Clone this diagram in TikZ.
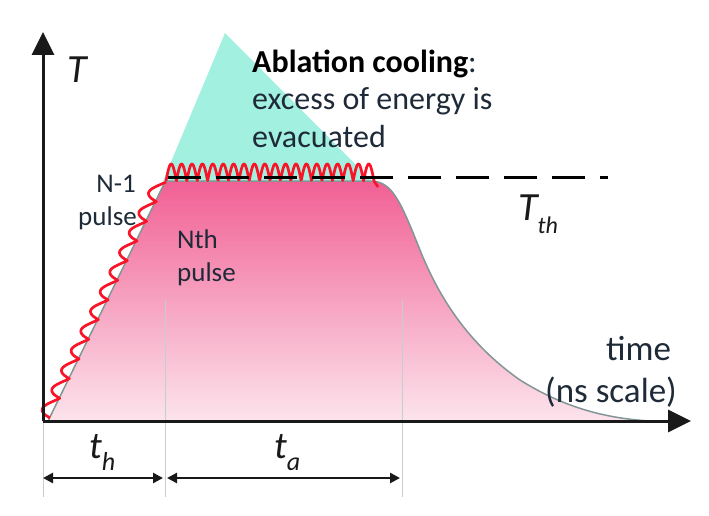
\documentclass[tikz,border=0pt]{standalone}
\usepackage{fontspec}
\setmainfont{Carlito}
\usetikzlibrary{arrows.meta}
\definecolor{tealfill}{RGB}{162,240,224}
\definecolor{pinktop}{RGB}{241,96,148}
\definecolor{pinkbot}{RGB}{252,228,236}
\definecolor{wavered}{RGB}{250,20,40}
\definecolor{outl}{RGB}{130,150,150}
\definecolor{txt}{RGB}{30,42,56}
\definecolor{axiscol}{RGB}{25,25,25}
\definecolor{guide}{RGB}{195,205,212}
\begin{document}
\begin{tikzpicture}[x=1pt,y=-1pt,
  axisline/.style={line width=3pt,draw=axiscol,-{Triangle[length=23pt,width=22pt]}},
  dimarrow/.style={line width=2.5pt,draw=axiscol,{Triangle[length=10pt,width=10pt]}-{Triangle[length=10pt,width=10pt]}},
  guideline/.style={draw=guide,line width=0.8pt},
  wave/.style={draw=wavered,line width=2.7pt,line join=round},
  lbl/.style={inner sep=0pt,text=txt},
  threshold/.style={line width=3pt,draw=black,dash pattern=on 33pt off 15pt}]
\useasboundingbox (0,0) rectangle (709,516);
% coordinates
\coordinate (O) at (43,421);
\coordinate (Ytip) at (43,32);
\coordinate (Xtip) at (691,421);
\coordinate (apex) at (225,33);
\coordinate (plL) at (163,181);
\coordinate (plR) at (372,181);
% teal triangle
\fill[tealfill] (apex) -- (plL) -- (plR) -- cycle;
% pink area
\fill[top color=pinktop,bottom color=pinkbot]
  (48,421) -- (163,186) .. controls (166,181) .. (172,181) -- (370,181)
  .. controls (392,181) and (400,200) .. (420,250)
  .. controls (440,300) and (470,345) .. (520,380)
  .. controls (560,405) and (600,418) .. (650,421) -- cycle;
\draw[outl,line width=1.5pt]
  (48,421) -- (163,186) .. controls (166,181) .. (172,181) -- (370,181)
  .. controls (392,181) and (400,200) .. (420,250)
  .. controls (440,300) and (470,345) .. (520,380)
  .. controls (560,405) and (600,418) .. (650,421);
% guides
\coordinate (g1a) at (43,421); \coordinate (g1b) at (43,497);
\coordinate (g2a) at (165,300); \coordinate (g2b) at (165,497);
\coordinate (g3a) at (402,300); \coordinate (g3b) at (402,497);
\draw[guideline] (g1a) -- (g1b);
\draw[guideline] (g2a) -- (g2b);
\draw[guideline] (g3a) -- (g3b);
% red waves
\draw[wave] plot[domain=0:12,samples=361,variable=\s]
  ({50+9.67*\s-11*0.897*sin(180*sqrt(frac(\s)))},{418-19.67*\s-11*0.441*sin(180*sqrt(frac(\s)))});
\draw[wave] plot[domain=0:208,samples=400,variable=\u]
  ({166+\u},{181-17*abs(sin(17.3077*\u))}) -- (378,187);
% threshold
\coordinate (thA) at (168,177);
\coordinate (thB) at (608,177);
\draw[threshold] (thA) -- (thB);
% axes
\draw[axisline,line join=miter] (O) -- (Ytip);
\draw[axisline] (O) -- (Xtip);
% dimension arrows
\coordinate (d1a) at (43,478); \coordinate (d1b) at (163,478);
\coordinate (d2a) at (167,478); \coordinate (d2b) at (400,478);
\draw[dimarrow] (d1a) -- (d1b);
\draw[dimarrow] (d2a) -- (d2b);
% labels
\node[lbl,anchor=base west,text=axiscol] (Tlab) at (67,83) {\fontsize{40}{40}\selectfont\itshape T};
\node[lbl,anchor=base west,text=black] (abl1) at (252,73) {\fontsize{32}{37}\selectfont\textbf{Ablation cooling}\textcolor{txt}{:}};
\node[lbl,anchor=base west] (abl2) at (252,110) {\fontsize{32}{37}\selectfont excess of energy is};
\node[lbl,anchor=base west] (abl3) at (252,147) {\fontsize{32}{37}\selectfont evacuated};
\node[lbl,anchor=base west,text=axiscol] (Tth) at (518,220) {\fontsize{40}{40}\selectfont\itshape T\fontsize{24}{24}\selectfont\raisebox{-13pt}{th}};
\node[lbl,anchor=base east] (nm1a) at (136,192) {\fontsize{27}{33}\selectfont N-1};
\node[lbl,anchor=base east] (nm1b) at (137,225) {\fontsize{27}{33}\selectfont pulse};
\node[lbl,anchor=base west] (nth1) at (177,248) {\fontsize{27}{33}\selectfont Nth};
\node[lbl,anchor=base west] (nth2) at (177,281) {\fontsize{27}{33}\selectfont pulse};
\node[lbl,anchor=base west] (time1) at (606,360) {\fontsize{35}{40}\selectfont time};
\node[lbl,anchor=base west] (time2) at (545,402) {\fontsize{35}{40}\selectfont (ns scale)};
\node[lbl,anchor=base west,text=axiscol] (th) at (89,458) {\fontsize{38}{38}\selectfont\itshape t\fontsize{26}{26}\selectfont\raisebox{-12pt}{h}};
\node[lbl,anchor=base west,text=axiscol] (ta) at (274,458) {\fontsize{38}{38}\selectfont\itshape t\fontsize{26}{26}\selectfont\raisebox{-12pt}{a}};
\end{tikzpicture}
\end{document}
